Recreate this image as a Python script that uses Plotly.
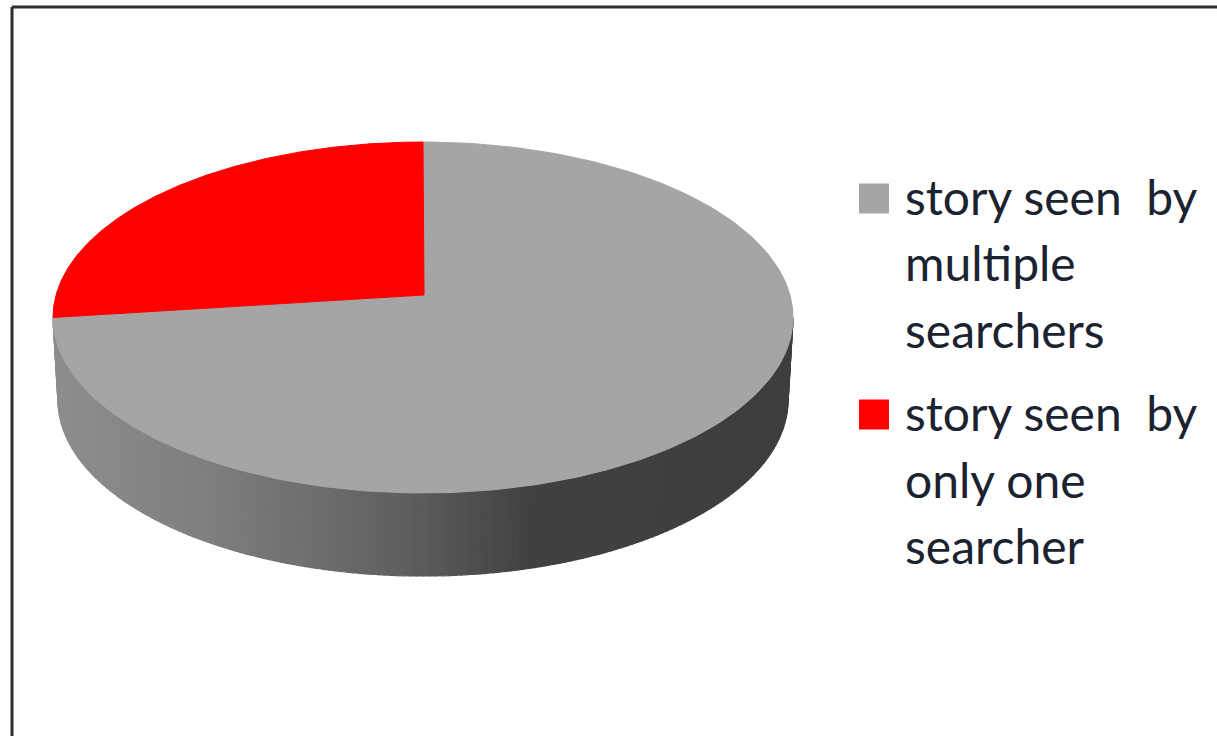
import numpy as np
import plotly.graph_objects as go

# Chart data
categories = ["story seen  by|multiple|searchers", "story seen  by|only one|searcher"]
shares = [75, 25]
slice_colors = ["#a5a5a5", "#ff0000"]

# Disc geometry, in page pixels
W, H = 1217, 736
TOP = dict(cx=423, cy=317.5, rx=370, ry=175.5)
BASE = dict(cx=423, cy=400, rx=365, ry=176)
APEX = (424, 295)

# Shading of the rim from its left end to its right end
RIM_X = [53, 200, 300, 400, 470, 530, 793]
RIM_GREY = [142, 128, 112, 96, 80, 66, 62]


def ellipse(e, theta):
    """Point on an ellipse; theta runs clockwise from twelve o'clock."""
    return e["cx"] + e["rx"] * np.sin(theta), e["cy"] - e["ry"] * np.cos(theta)


fig = go.Figure()

# Rim of the disc, built as narrow vertical strips along the front half
edges = np.linspace(np.pi / 2, 3 * np.pi / 2, 181)
for a, b in zip(edges[:-1], edges[1:]):
    arc = np.linspace(a, b, 3)
    xt, yt = ellipse(TOP, arc)
    xb, yb = ellipse(BASE, arc)
    level = int(np.interp((xt[0] + xt[-1]) / 2, RIM_X, RIM_GREY))
    colour = f"rgb({level},{level},{level})"
    fig.add_trace(go.Scatter(
        x=np.r_[xt, xb[::-1], xt[0]],
        y=np.r_[yt, yb[::-1], yt[0]],
        mode="lines", fill="toself", fillcolor=colour,
        line=dict(color=colour, width=1.2),
        hoverinfo="skip", showlegend=False,
    ))

# Top face: slices laid out clockwise from twelve o'clock
fractions = np.cumsum([0] + shares) / sum(shares)
for i, colour in enumerate(slice_colors):
    arc = np.linspace(fractions[i], fractions[i + 1], 240) * 2 * np.pi
    ax, ay = ellipse(TOP, arc)
    fig.add_trace(go.Scatter(
        x=np.r_[APEX[0], ax, APEX[0]],
        y=np.r_[APEX[1], ay, APEX[1]],
        mode="lines", fill="toself", fillcolor=colour,
        line=dict(color=colour, width=1),
        name=categories[i].replace("|", " "),
        hoverinfo="name", showlegend=False,
    ))

# Legend: a colour swatch and three stacked lines per entry
swatch_y = [198.5, 414.5]
line_y = [[196, 262, 329], [412, 479, 545]]
for colour, label, sy, rows in zip(slice_colors, categories, swatch_y, line_y):
    fig.add_trace(go.Scatter(
        x=[874], y=[sy], mode="markers",
        marker=dict(symbol="square", size=30, color=colour, line=dict(width=0)),
        hoverinfo="skip", showlegend=False,
    ))
    for text, y in zip(label.split("|"), rows):
        fig.add_annotation(
            x=903, y=y, text=text.replace("  ", "\u00a0\u00a0"),
            xanchor="left", yanchor="middle", showarrow=False,
            font=dict(family="Lato, Carlito, sans-serif", size=48, color="#1b2230"),
        )

# Chart frame: only the top and left edges fall inside the page
for x0, y0, x1, y1 in [(12, 7, W, 7), (12, 7, 12, H)]:
    fig.add_shape(type="line", x0=x0, y0=y0, x1=x1, y1=y1,
                  line=dict(color="#2e2e2e", width=3))

fig.update_layout(
    width=W, height=H,
    margin=dict(l=0, r=0, t=0, b=0),
    paper_bgcolor="white", plot_bgcolor="white",
    xaxis=dict(range=[0, W], visible=False, fixedrange=True),
    yaxis=dict(range=[H, 0], visible=False, fixedrange=True),
)

fig.write_html("out.html", config={"displayModeBar": False})
